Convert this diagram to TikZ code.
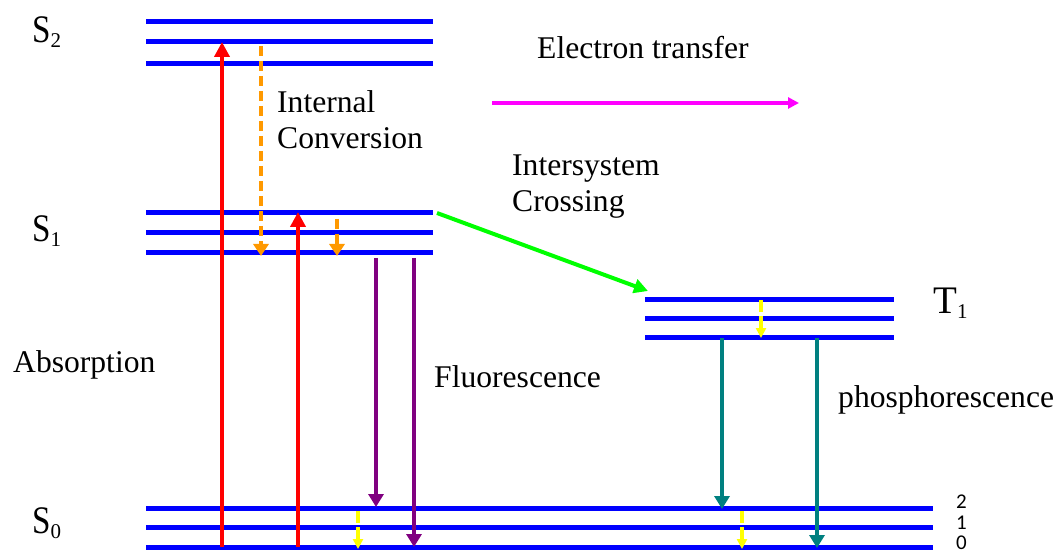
\documentclass[tikz,border=0pt]{standalone}
\usepackage{fontspec}
\setmainfont{Liberation Serif}
\newfontfamily\numfont{Carlito}
\usetikzlibrary{arrows.meta}
\definecolor{cblue}{RGB}{0,0,255}
\definecolor{cred}{RGB}{255,0,0}
\definecolor{corange}{RGB}{255,153,0}
\definecolor{cpurple}{RGB}{128,0,128}
\definecolor{cteal}{RGB}{0,128,128}
\definecolor{cgreen}{RGB}{0,255,0}
\definecolor{cmagenta}{RGB}{255,0,255}
\definecolor{cyellow}{RGB}{255,255,0}
\newcommand{\subdigit}[1]{\raisebox{-5pt}{\fontsize{21}{21}\selectfont #1}}
\begin{document}
\begin{tikzpicture}[x=1pt,y=-1pt,
  level/.style={draw=cblue,line width=5pt},
  lbl/.style={anchor=base west,inner sep=0pt,font=\fontsize{31.6}{36}\selectfont},
  statelbl/.style={anchor=base west,inner sep=0pt,font=\fontsize{39}{40}\selectfont},
  numlbl/.style={anchor=base west,inner sep=0pt,font=\numfont\fontsize{21}{22}\selectfont},
  bigarrow/.style={line width=4pt,-{Triangle[length=15pt,width=15pt]}},
  absarrow/.style={bigarrow,draw=cred},
  fluarrow/.style={line width=4pt,draw=cpurple,-{Triangle[length=13pt,width=15pt]}},
  phoarrow/.style={line width=4pt,draw=cteal,-{Triangle[length=13pt,width=15pt]}},
  icarrow/.style={line width=3.5pt,draw=corange,dash pattern=on 10pt off 5pt,-{Triangle[length=12pt,width=15pt]}},
  vrarrow/.style={line width=3.5pt,draw=cyellow,dash pattern=on 12pt off 4pt,-{Triangle[length=10pt,width=10pt]}},
  iscarrow/.style={line width=4pt,draw=cgreen,-{Triangle[length=14pt,width=14pt]}},
  etarrow/.style={line width=4pt,draw=cmagenta,-{Triangle[length=11pt,width=11pt]}}
]
\useasboundingbox (0,0) rectangle (1057,553);

% energy levels
\draw[level] (146,22) -- (433,22);
\draw[level] (146,42) -- (433,42);
\draw[level] (146,64) -- (433,64);
\draw[level] (146,213) -- (433,213);
\draw[level] (146,233) -- (433,233);
\draw[level] (146,253) -- (433,253);
\draw[level] (645,299) -- (894,299);
\draw[level] (645,318) -- (894,318);
\draw[level] (645,337) -- (894,337);
\draw[level] (146,508) -- (933,508);
\draw[level] (146,527) -- (933,527);
\draw[level] (146,547) -- (933,547);

% coordinates
\coordinate (a1s) at (222,547); \coordinate (a1e) at (222,42);
\coordinate (a2s) at (298,547); \coordinate (a2e) at (298,212);
\coordinate (ic1s) at (261,46); \coordinate (ic1e) at (261,256);
\coordinate (ic2s) at (337,219); \coordinate (ic2e) at (337,256);
\coordinate (f1s) at (376,258); \coordinate (f1e) at (376,507);
\coordinate (f2s) at (414,258); \coordinate (f2e) at (414,547);
\coordinate (p1s) at (722,338); \coordinate (p1e) at (722,509);
\coordinate (p2s) at (817,338); \coordinate (p2e) at (817,548);
\coordinate (v1s) at (761,300); \coordinate (v1e) at (761,338);
\coordinate (v2s) at (358,511); \coordinate (v2e) at (358,549);
\coordinate (v3s) at (742,511); \coordinate (v3e) at (742,549);
\coordinate (iscs) at (437,213); \coordinate (isce) at (648,291);
\coordinate (ets) at (492,103); \coordinate (ete) at (799,103);

% arrows
\draw[absarrow] (a1s) -- (a1e);
\draw[absarrow] (a2s) -- (a2e);
\draw[icarrow] (ic1s) -- (ic1e);
\draw[icarrow] (ic2s) -- (ic2e);
\draw[fluarrow] (f1s) -- (f1e);
\draw[fluarrow] (f2s) -- (f2e);
\draw[phoarrow] (p1s) -- (p1e);
\draw[phoarrow] (p2s) -- (p2e);
\draw[vrarrow] (v1s) -- (v1e);
\draw[vrarrow] (v2s) -- (v2e);
\draw[vrarrow] (v3s) -- (v3e);
\draw[iscarrow] (iscs) -- (isce);
\draw[etarrow] (ets) -- (ete);

% state labels
\node[statelbl] (S2) at (32,43) {\scalebox{0.85}[1]{S}\subdigit{2}};
\node[statelbl] (S1) at (32,242) {\scalebox{0.85}[1]{S}\subdigit{1}};
\node[statelbl] (S0) at (32,533) {\scalebox{0.85}[1]{S}\subdigit{0}};
\node[statelbl] (T1) at (933,313) {T\subdigit{1}};

% process labels
\node[lbl] (ic1) at (277,113) {Internal};
\node[lbl] (ic2) at (277,149) {Conversion};
\node[lbl] (et) at (537,59) {Electron transfer};
\node[lbl] (isc1) at (512,176) {Intersystem};
\node[lbl] (isc2) at (512,212) {Crossing};
\node[lbl] (abs) at (13,372) {Absorption};
\node[lbl] (flu) at (434,387) {Fluorescence};
\node[lbl] (pho) at (838,407) {phosphorescence};

% vibrational numbers
\node[numlbl] (n2) at (956,508) {2};
\node[numlbl] (n1) at (956,529) {1};
\node[numlbl] (n0) at (956,549) {0};
\end{tikzpicture}
\end{document}
